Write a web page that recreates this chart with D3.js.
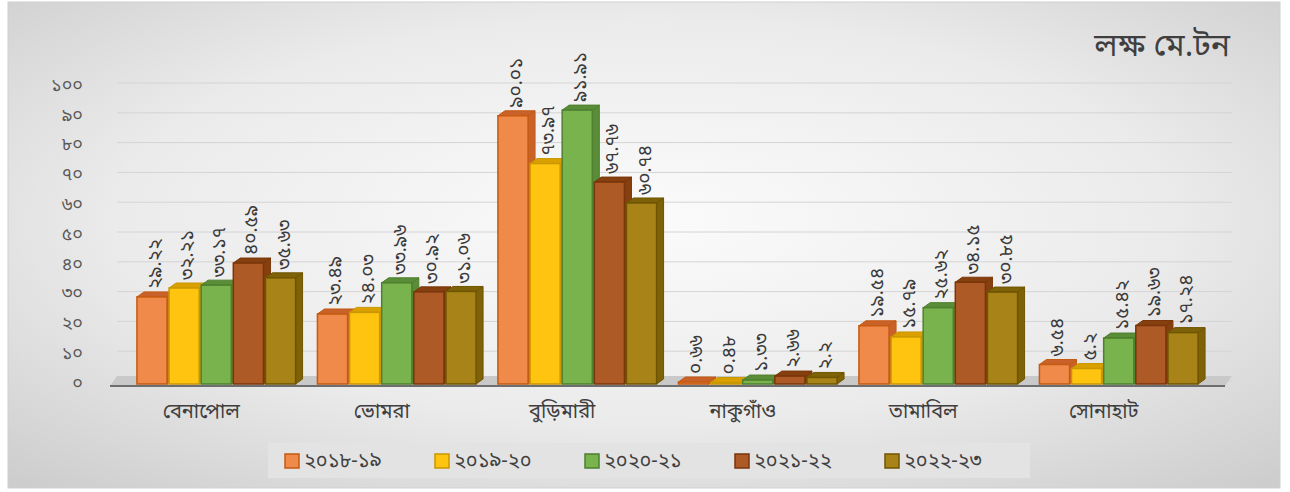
<!DOCTYPE html>
<html><head><meta charset="utf-8">
<script src="https://cdn.jsdelivr.net/npm/d3@7"></script>
<style>
html,body{margin:0;padding:0;background:#fff;}
text{font-family:"Noto Sans Bengali","Noto Sans","Lohit Bengali",sans-serif;}
</style></head>
<body><svg id="c" width="1290" height="492"></svg>
<script>
const categories = ["বেনাপোল","ভোমরা","বুড়িমারী","নাকুগাঁও","তামাবিল","সোনাহাট"];
const seriesNames = ["২০১৮-১৯","২০১৯-২০","২০২০-২১","২০২১-২২","২০২২-২৩"];
const s2018 = [29.22, 23.49, 90.01, 0.66, 19.54, 6.54];
const s2019 = [32.21, 24.03, 73.97, 0.48, 15.79, 5.20];
const s2020 = [33.17, 33.96, 91.91, 1.33, 25.62, 15.42];
const s2021 = [40.59, 30.92, 67.76, 2.66, 34.15, 19.63];
const s2022 = [35.63, 31.06, 60.74, 2.20, 30.85, 17.24];
const yTicks = [0,10,20,30,40,50,60,70,80,90,100];
const unitTitle = "লক্ষ মে.টন";

const series = [s2018, s2019, s2020, s2021, s2022];
const fills = ["#F08A4B","#FFC410","#78B34E","#AE5A26","#A88418"];
const sides = ["#C8622A","#D9A000","#5A8D38","#86400F","#7E6208"];
const strokes = ["#C55A11","#C99700","#4F7F2F","#7A360A","#705400"];

const bn = s => String(s).replace(/[0-9]/g, d => "০১২৩৪৫৬৭৮৯"[+d]);
const fmt = v => bn(v.toFixed(2).replace(/0$/, "").replace(/\.$/, ""));

const svg = d3.select("#c");
const defs = svg.append("defs");
const bg = defs.append("radialGradient").attr("id","bg").attr("cx","50%").attr("cy","45%").attr("r","75%");
bg.append("stop").attr("offset","0%").attr("stop-color","#fbfbfb");
bg.append("stop").attr("offset","55%").attr("stop-color","#ebebeb");
bg.append("stop").attr("offset","100%").attr("stop-color","#cbcbcb");

svg.append("rect").attr("x",8).attr("y",2).attr("width",1272).attr("height",486)
  .attr("fill","url(#bg)").attr("stroke","#d0d0d0");

const dx = 7, dy = -5;
const x0 = d3.scaleBand().domain(categories).range([127, 1210]).paddingInner(0.11).paddingOuter(0.055);
const x1 = d3.scaleBand().domain(d3.range(5)).range([0, x0.bandwidth()]).padding(0);
const y = d3.scaleLinear().domain([0,100]).range([386, 88]);

svg.append("g").selectAll("line").data(yTicks).join("line")
  .attr("x1", 110+dx).attr("x2", 1225+dx)
  .attr("y1", d => y(d)+dy).attr("y2", d => y(d)+dy)
  .attr("stroke", "#d4d4d4").attr("stroke-width", 1);

svg.append("g").selectAll("text").data(yTicks).join("text")
  .attr("x", 83).attr("y", d => y(d)-2).attr("text-anchor","end")
  .attr("dominant-baseline","middle").attr("font-size",18).attr("fill","#595959")
  .text(d => bn(d));

const fx0 = 110, fx1 = 1225;
svg.append("path")
  .attr("d", `M${fx0},${y(0)} L${fx1},${y(0)} L${fx1+dx},${y(0)+dy-5} L${fx0+dx},${y(0)+dy-5} Z`)
  .attr("fill","#c9c9c9");
svg.append("line").attr("x1",fx0).attr("x2",fx1).attr("y1",y(0)).attr("y2",y(0))
  .attr("stroke","#6e6e6e").attr("stroke-width",2);

const gBars = svg.append("g");
categories.forEach((c, ci) => {
  series.forEach((s, si) => {
    const v = s[ci];
    const bx = x0(c) + x1(si);
    const bw = x1.bandwidth() - 2;
    const top = y(v)-2, base = y(0)-2;
    const g = gBars.append("g");
    g.append("path").attr("d",`M${bx+bw},${top} L${bx+bw+dx},${top+dy} L${bx+bw+dx},${base+dy} L${bx+bw},${base} Z`)
      .attr("fill", sides[si]).attr("stroke", strokes[si]).attr("stroke-width",1);
    g.append("path").attr("d",`M${bx},${top} L${bx+dx},${top+dy} L${bx+bw+dx},${top+dy} L${bx+bw},${top} Z`)
      .attr("fill", sides[si]).attr("stroke", strokes[si]).attr("stroke-width",1);
    g.append("rect").attr("x",bx).attr("y",top).attr("width",bw).attr("height",Math.max(0,base-top))
      .attr("fill", fills[si]).attr("stroke", strokes[si]).attr("stroke-width",1.5);
    svg.append("text")
      .attr("transform",`translate(${bx+bw/2+9},${top+dy-3}) rotate(-90)`)
      .attr("font-size",19).attr("fill","#3a3a3a").attr("text-anchor","start")
      .text(fmt(v));
  });
});

svg.append("g").selectAll("text").data(categories).join("text")
  .attr("x", d => x0(d)+x0.bandwidth()/2-16).attr("y", 418)
  .attr("text-anchor","middle").attr("font-size",20).attr("fill","#3f3f3f")
  .text(d => d);

svg.append("text").attr("x",1230).attr("y",56).attr("text-anchor","end")
  .attr("font-size",32).attr("fill","#3f3f3f").text(unitTitle);

svg.append("rect").attr("x",268).attr("y",443).attr("width",762).attr("height",35).attr("fill","#e3e3e3");
const lg = svg.append("g").selectAll("g").data(seriesNames).join("g")
  .attr("transform",(d,i)=>`translate(${285+i*150},461)`);
lg.append("rect").attr("x",0).attr("y",-7).attr("width",14).attr("height",14)
  .attr("fill",(d,i)=>fills[i]).attr("stroke",(d,i)=>strokes[i]).attr("stroke-width",1.5);
lg.append("text").attr("x",19).attr("y",1).attr("dominant-baseline","middle")
  .attr("font-size",20).attr("fill","#404040").text(d=>d);
</script></body></html>
